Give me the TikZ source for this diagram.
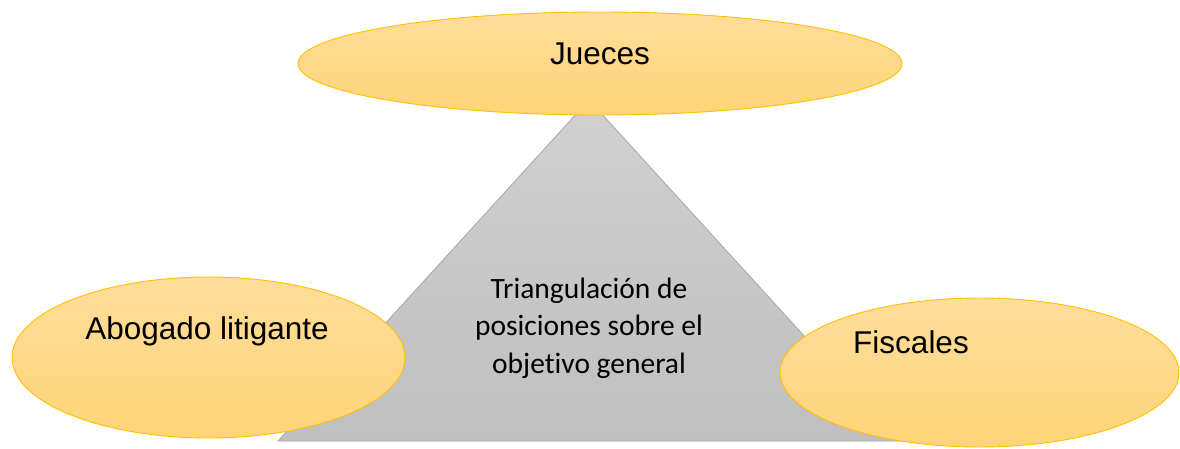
\documentclass[tikz,border=0pt]{standalone}
\usepackage{fontspec}
\setmainfont{Liberation Sans}
\newfontfamily\calibrifont[Ligatures=NoCommon]{Carlito}
\usepackage{tikz}
\usetikzlibrary{shapes.geometric,positioning}

\definecolor{goldline}{RGB}{255,192,0}
\definecolor{goldtop}{RGB}{255,221,155}
\definecolor{goldbottom}{RGB}{255,212,120}
\definecolor{greyline}{RGB}{166,166,166}
\definecolor{greytop}{RGB}{209,209,209}
\definecolor{greybottom}{RGB}{191,191,191}

\begin{document}
\begin{tikzpicture}[x=1pt, y=-1pt,
  actor/.style={ellipse, draw=goldline, line width=0.9pt, top color=goldtop, bottom color=goldbottom, inner sep=0pt},
  actorname/.style={font=\fontsize{31.5}{38}\selectfont, inner sep=0pt, anchor=base}]

\useasboundingbox (0,0) rectangle (1180,448);

% triangle
\coordinate (apex) at (589,100);
\coordinate (baseleft) at (278,441);
\coordinate (baseright) at (900,441);
\draw[greyline, line width=0.8pt, top color=greytop, bottom color=greybottom] (apex) -- (baseleft) -- (baseright) -- cycle;
\node[font=\calibrifont\fontsize{29.5}{37.5}\selectfont, align=center, anchor=base, inner sep=0pt] (goal) at (589,373) {Triangulaci\'on de\\posiciones sobre el\\objetivo general};

% actors
\node[actor, minimum width=604pt, minimum height=103pt] (jueces) at (600,63.5) {};
\node[actorname] (jueces text) at (600,64) {Jueces};

\node[actor, minimum width=393pt, minimum height=161pt] (abogado) at (208.5,357.5) {};
\node[actorname] (abogado text) at (207,339) {Abogado litigante};

\node[actor, minimum width=399pt, minimum height=149pt] (fiscales) at (979.5,372.5) {};
\node[actorname] (fiscales text) at (911,353) {Fiscales};

\end{tikzpicture}
\end{document}
